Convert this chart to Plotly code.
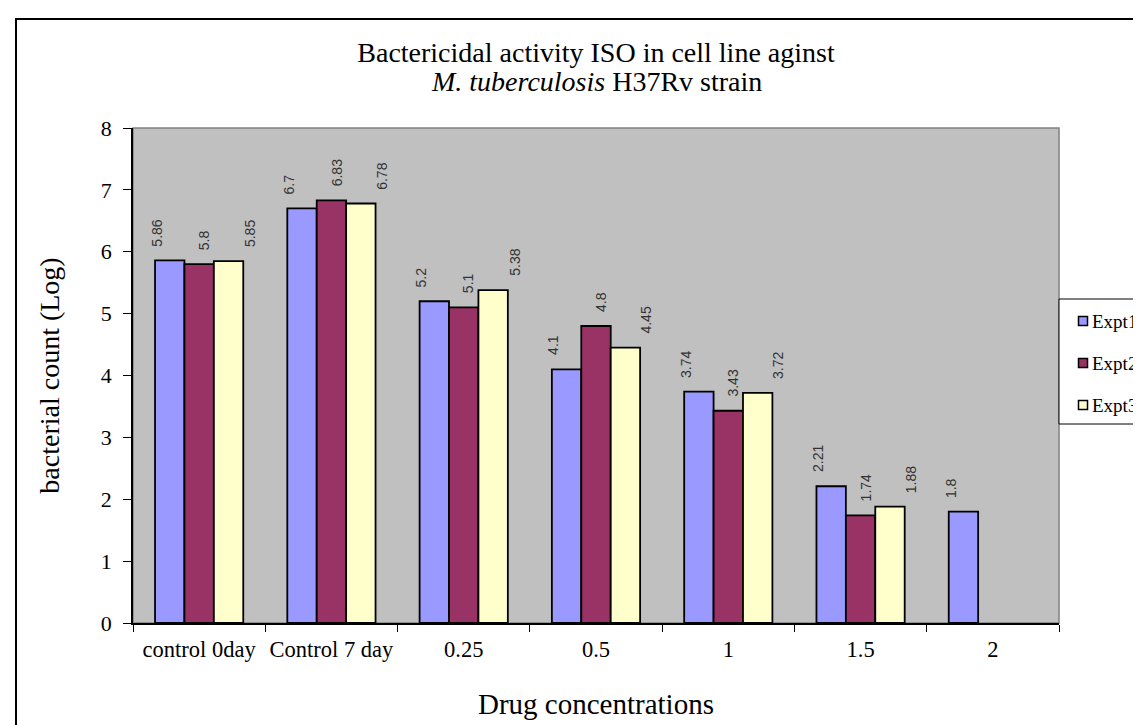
import plotly.graph_objects as go

categories = ["control 0day", "Control 7 day", "0.25", "0.5", "1", "1.5", "2"]
expt1 = [5.86, 6.7, 5.2, 4.1, 3.74, 2.21, 1.8]
expt2 = [5.8, 6.83, 5.1, 4.8, 3.43, 1.74, None]
expt3 = [5.85, 6.78, 5.38, 4.45, 3.72, 1.88, None]
series_names = ["Expt1", "Expt2", "Expt3"]
series_colors = ["#9999FF", "#993366", "#FFFFCC"]
y_ticks = [0, 1, 2, 3, 4, 5, 6, 7, 8]

SERIF = "Liberation Serif, Times New Roman, serif"
SANS = "Liberation Sans, Arial, sans-serif"

# layout geometry (pixels)
W, H = 1141, 725
ML, MR, MT, MB = 125, 90, 120, 110
PW, PH = W - ML - MR, H - MT - MB
BARGAP = 0.333


def px_x(px):
    return (px - ML) / PW


def px_y(py):
    return (H - MB - py) / PH


series_vals = [expt1, expt2, expt3]
fig = go.Figure()
for name, vals, col in zip(series_names, series_vals, series_colors):
    fig.add_trace(go.Bar(
        name=name, x=categories, y=vals,
        marker=dict(color=col, line=dict(color="#000000", width=1.8)),
        showlegend=False,
    ))

# rotated value labels above the bars (x given as category index)
bar_w = PW / len(categories) * (1 - BARGAP) / len(series_names)
label_nudge = [-13, 5, 21]
annotations = []
for i, (vals, nudge) in enumerate(zip(series_vals, label_nudge)):
    slot = (i - (len(series_names) - 1) / 2) * bar_w
    for j, v in enumerate(vals):
        if v is None:
            continue
        annotations.append(dict(
            x=j, y=v, xref="x", yref="y", text=f"{v:g}", showarrow=False,
            textangle=-90, xanchor="center", yanchor="bottom",
            xshift=slot + nudge, yshift=12,
            font=dict(family=SANS, size=14, color="#333333"),
        ))

# second title line
annotations.append(dict(
    x=0.5, y=px_y(73), xref="paper", yref="paper", showarrow=False,
    text="<i>M. tuberculosis</i> H37Rv strain", xanchor="center", yanchor="middle",
    font=dict(family=SERIF, size=28, color="#000000"),
))

# legend (drawn manually so it matches the reference placement)
legend_shapes = []
legend_y = [313, 355, 397]
for name, col, ly in zip(series_names, series_colors, legend_y):
    legend_shapes.append(dict(
        type="rect", xref="paper", yref="paper",
        xsizemode="pixel", ysizemode="pixel",
        xanchor=px_x(1075), yanchor=px_y(ly),
        x0=-4.5, x1=4.5, y0=-4.5, y1=4.5,
        fillcolor=col, line=dict(color="#000000", width=1.5), layer="above",
    ))
    annotations.append(dict(
        x=px_x(1082), y=px_y(ly), xref="paper", yref="paper", showarrow=False,
        text=name, xanchor="left", yanchor="middle",
        font=dict(family=SERIF, size=19, color="#000000"),
    ))

fig.update_layout(
    width=W, height=H,
    margin=dict(l=ML, r=MR, t=MT, b=MB, autoexpand=False),
    paper_bgcolor="#FFFFFF", plot_bgcolor="#C0C0C0",
    barmode="group", bargap=BARGAP, bargroupgap=0,
    font=dict(family=SERIF, color="#000000"),
    title=dict(
        text="Bactericidal activity ISO in cell line aginst",
        x=0.5, xref="paper", xanchor="center",
        y=1 - 44 / H, yref="container", yanchor="middle",
        font=dict(family=SERIF, size=28, color="#000000"),
    ),
    showlegend=False,
    xaxis=dict(
        title=dict(text="Drug concentrations", font=dict(family=SERIF, size=29), standoff=33),
        tickfont=dict(family=SERIF, size=22.5, color="#000000"),
        tickangle=0, ticklabelstandoff=5,
        showline=True, linecolor="#000000", linewidth=1.5,
        ticks="outside", ticklen=7, tickcolor="#000000", tickson="boundaries",
        showgrid=False, zeroline=False,
    ),
    yaxis=dict(
        title=dict(text="bacterial count (Log)", font=dict(family=SERIF, size=28), standoff=33),
        tickfont=dict(family=SERIF, size=22, color="#000000"),
        ticklabelstandoff=7,
        range=[0, 8], tickvals=y_ticks,
        showline=True, linecolor="#000000", linewidth=1.5,
        ticks="outside", ticklen=8, tickcolor="#000000",
        showgrid=False, zeroline=False,
    ),
    annotations=annotations,
    shapes=[
        dict(type="rect", xref="paper", yref="paper", x0=0, x1=1, y0=0, y1=1,
             line=dict(color="#808080", width=1.5), layer="below"),
        # legend frame
        dict(type="rect", xref="paper", yref="paper",
             x0=px_x(1051), x1=px_x(1140), y0=px_y(416), y1=px_y(291),
             fillcolor="#FFFFFF", line=dict(color="#000000", width=1), layer="above"),
        # outer chart border
        dict(type="rect", xref="paper", yref="paper",
             x0=px_x(8), x1=px_x(1300), y0=px_y(900), y1=px_y(11),
             line=dict(color="#000000", width=2), layer="above"),
    ] + legend_shapes,
)

fig.write_html("out.html")
